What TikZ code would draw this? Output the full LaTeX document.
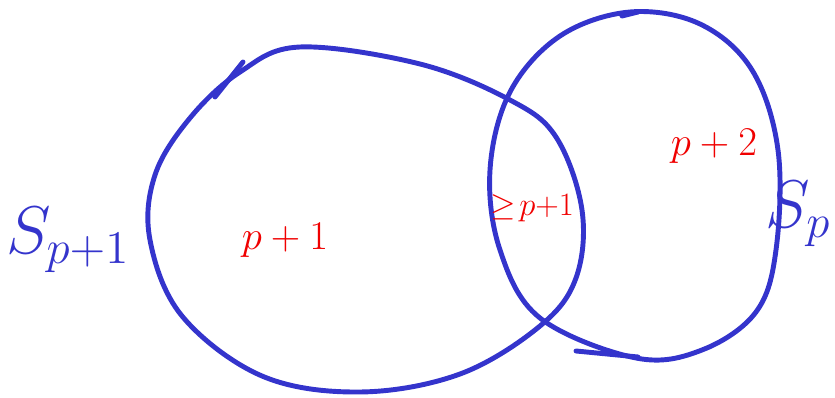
\documentclass[tikz,border=0pt]{standalone}
\usepackage{amsmath,amssymb}

\definecolor{inkblue}{RGB}{52,52,204}
\definecolor{inkred}{RGB}{240,0,0}

\begin{document}
\begin{tikzpicture}[x=0.2mm, y=-0.2mm,
  every node/.style={font=\huge},
  pen/.style={inkblue, line width=2.8pt, line cap=round, line join=round},
  lbl/.style={inkred, scale=1.12}]

  % Frame of the picture
  \useasboundingbox (0,0) rectangle (835,398);

  %% Left set S_{p+1}
  \draw[pen] plot[smooth cycle, tension=0.6] coordinates {
    (300,47) (420,64) (510,100) (556,137) (582,210) (576,278)
    (540,326) (460,374) (360,392) (262,376) (182,316) (150,240)
    (155,175) (190,118) (240,72)};
  % small stroke on its top left
  \draw[pen] (215,97) -- (243,62);

  %% Right set S_p
  \draw[pen] plot[smooth cycle, tension=0.6] coordinates {
    (630,12) (700,24) (752,70) (778,150) (776,250) (756,312)
    (702,350) (636,358) (540,318) (500,250) (490,170)
    (510,92) (560,36)};
  % small strokes on top and bottom
  \draw[pen] (622,16) -- (638,12);
  \draw[pen] (576,351) -- (638,357);

  % Set names
  \node[inkblue, scale=1.85] (sleft) at (68,240) {$S_{p+1}$};
  \node[inkblue, scale=1.85, anchor=east, inner sep=1pt] (sright)
    at (835,214) {$S_p$};

  % Region labels
  \node[lbl] (left) at (285,240) {$p+1$};
  \node[lbl] (right) at (714,146) {$p+2$};
  \node[lbl, scale=0.8] (both) at (532,208) {$\geq\! p{+}1$};
\end{tikzpicture}
\end{document}
